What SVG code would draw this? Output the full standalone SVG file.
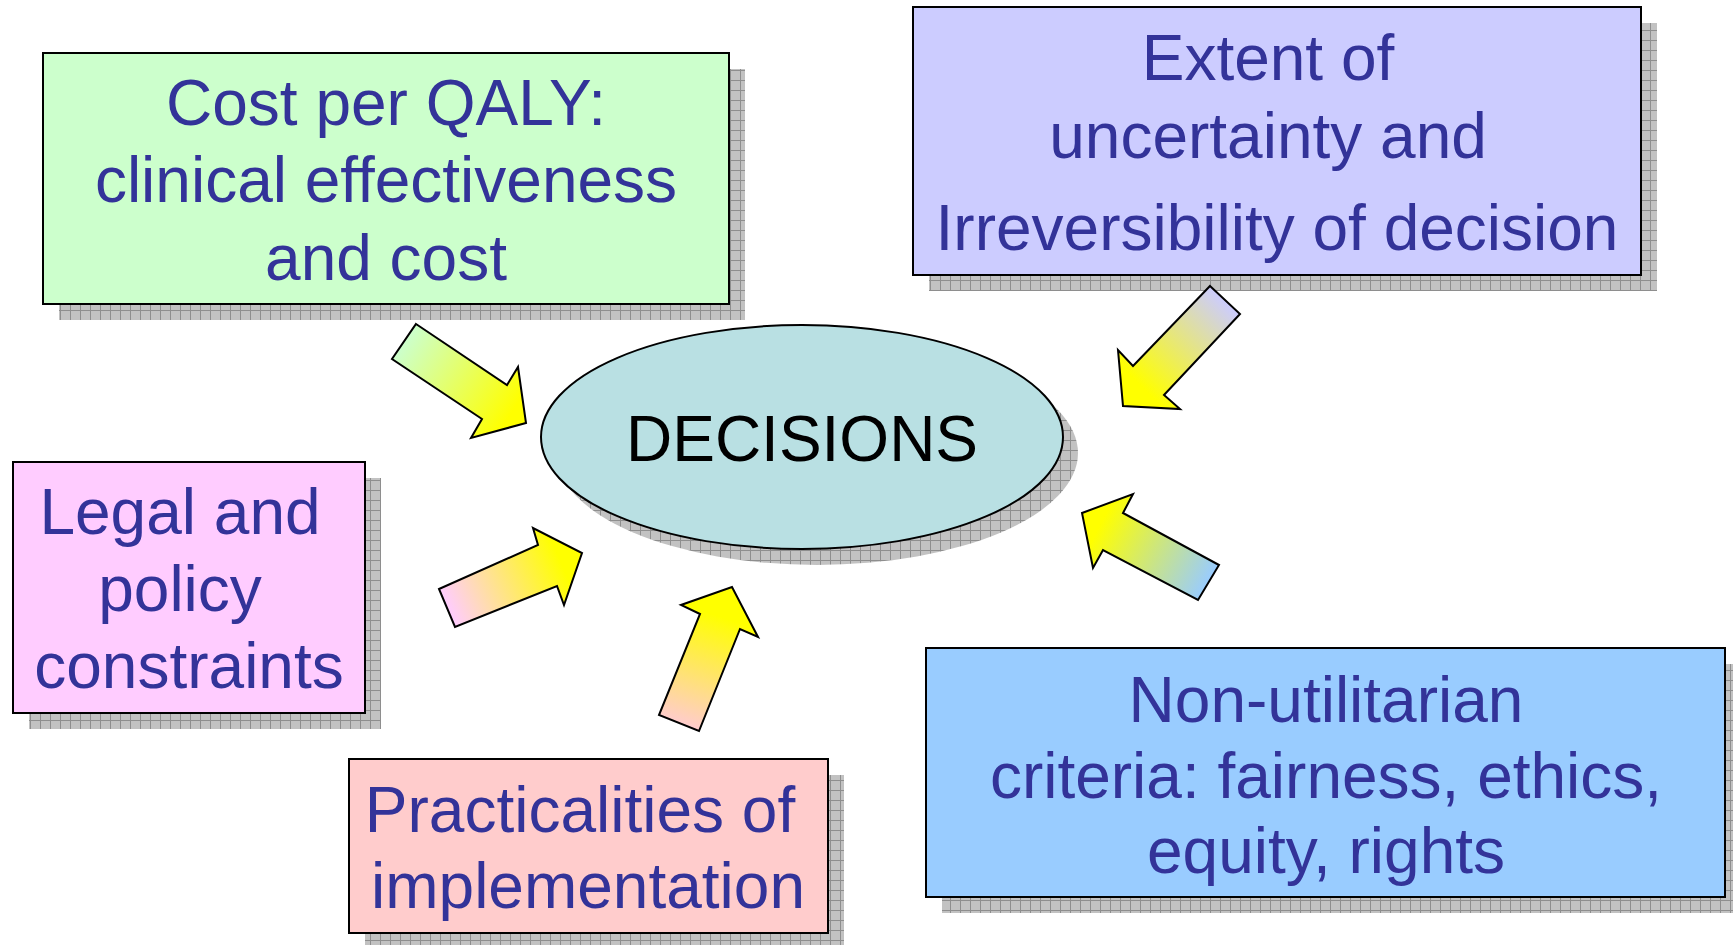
<svg xmlns="http://www.w3.org/2000/svg" width="1733" height="945" viewBox="0 0 1733 945">
<style>
.box{stroke:#000;stroke-width:2}
.sh{fill:url(#hatch)}
.t{font-family:"Liberation Sans",Arial,sans-serif;font-size:64px;fill:#333399;text-anchor:middle}
.arr{stroke:#000;stroke-width:2;stroke-linejoin:miter}
</style>
<defs>
<pattern id="hatch" patternUnits="userSpaceOnUse" width="10" height="10">
<rect width="10" height="10" fill="#c2c2c2"/>
<path d="M0 0.5H10M0.5 0V10" stroke="#8e8e8e" stroke-width="1"/>
</pattern>
<linearGradient id="g1" gradientUnits="userSpaceOnUse" x1="404" y1="342" x2="512" y2="412"><stop offset="0" stop-color="#CCFFCC"/><stop offset="1" stop-color="#FFFF00"/></linearGradient>
<linearGradient id="g2" gradientUnits="userSpaceOnUse" x1="1225" y1="300" x2="1140" y2="385"><stop offset="0" stop-color="#CCCCFF"/><stop offset="1" stop-color="#FFFF00"/></linearGradient>
<linearGradient id="g3" gradientUnits="userSpaceOnUse" x1="447" y1="608" x2="560" y2="560"><stop offset="0" stop-color="#FFCCFF"/><stop offset="1" stop-color="#FFFF00"/></linearGradient>
<linearGradient id="g4" gradientUnits="userSpaceOnUse" x1="679" y1="723" x2="715" y2="615"><stop offset="0" stop-color="#FFCCCC"/><stop offset="1" stop-color="#FFFF00"/></linearGradient>
<linearGradient id="g5" gradientUnits="userSpaceOnUse" x1="1209" y1="582" x2="1100" y2="525"><stop offset="0" stop-color="#99CCFF"/><stop offset="1" stop-color="#FFFF00"/></linearGradient>
</defs>
<rect width="1733" height="945" fill="#fff"/>

<g id="cost-per-qaly">
<rect class="sh" x="59" y="69" width="686" height="251"/>
<rect class="box" x="43" y="53" width="686" height="251" fill="#CCFFCC"/>
<text class="t" x="386" y="125">Cost per QALY:</text>
<text class="t" x="386" y="202">clinical effectiveness</text>
<text class="t" x="386" y="280">and cost</text>
</g>

<g id="uncertainty">
<rect class="sh" x="929" y="23" width="728" height="268"/>
<rect class="box" x="913" y="7" width="728" height="268" fill="#CCCCFF"/>
<text class="t" x="1268" y="80">Extent of</text>
<text class="t" x="1268" y="158">uncertainty and</text>
<text class="t" x="1277" y="250">Irreversibility of decision</text>
</g>

<g id="legal">
<rect class="sh" x="29" y="478" width="352" height="251"/>
<rect class="box" x="13" y="462" width="352" height="251" fill="#FFCCFF"/>
<text class="t" x="180" y="534">Legal and</text>
<text class="t" x="180" y="611">policy</text>
<text class="t" x="189" y="688">constraints</text>
</g>

<g id="practicalities">
<rect class="sh" x="365" y="775" width="479" height="174"/>
<rect class="box" x="349" y="759" width="479" height="174" fill="#FFCCCC"/>
<text class="t" x="580" y="832">Practicalities of</text>
<text class="t" x="588" y="908">implementation</text>
</g>

<g id="non-utilitarian">
<rect class="sh" x="942" y="664" width="799" height="249"/>
<rect class="box" x="926" y="648" width="799" height="249" fill="#99CCFF"/>
<text class="t" x="1326" y="722">Non-utilitarian</text>
<text class="t" x="1326" y="798">criteria: fairness, ethics,</text>
<text class="t" x="1326" y="873">equity, rights</text>
</g>

<g id="decisions">
<ellipse class="sh" cx="817" cy="453" rx="261" ry="112"/>
<ellipse class="box" cx="802" cy="437" rx="261" ry="112" fill="#B9E0E3"/>
<text x="802" y="461" font-family="'Liberation Sans',Arial,sans-serif" font-size="64" fill="#000" text-anchor="middle">DECISIONS</text>
</g>

<g id="connectors">
<polygon class="arr" fill="url(#g1)" points="416,324 507,385 518,367 526,423 471,438 482,419 392,359"/>
<polygon class="arr" fill="url(#g2)" points="1210,286 1240,314 1164,395 1180,409 1123,406 1118,350 1133,366"/>
<polygon class="arr" fill="url(#g3)" points="439,589 538,545 533,528 582,553 564,605 557,586 455,627"/>
<polygon class="arr" fill="url(#g4)" points="700,614 681,605 732,587 758,637 740,629 699,731 659,715"/>
<polygon class="arr" fill="url(#g5)" points="1082,513 1133,494 1123,513 1219,565 1198,600 1103,550 1093,568"/>
</g>
</svg>
